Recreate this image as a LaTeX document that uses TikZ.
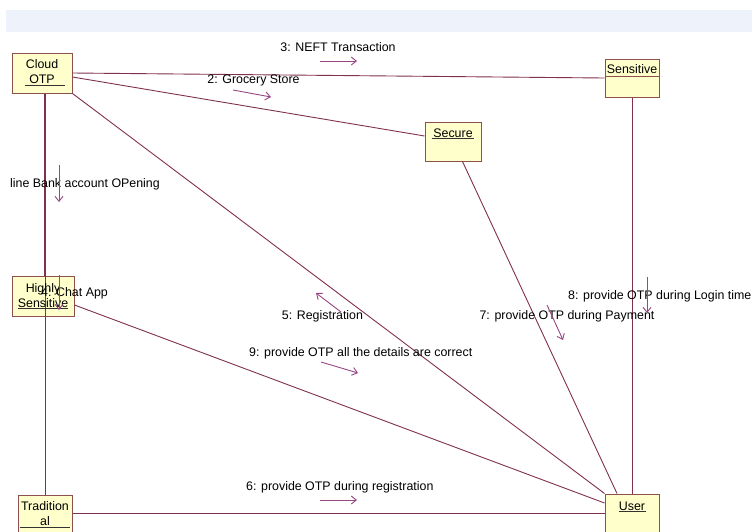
\documentclass[tikz,border=0pt]{standalone}
\usepackage{fontspec}
\setmainfont{Liberation Sans}
\usetikzlibrary{arrows.meta}
\definecolor{band}{RGB}{238,242,250}
\definecolor{boxfill}{RGB}{255,255,204}
\definecolor{boxline}{RGB}{140,80,80}
\definecolor{connc}{RGB}{128,48,80}
\definecolor{msgc}{RGB}{150,70,130}
\newcommand\lblfont{\fontsize{12.4}{15}\selectfont}
\begin{document}
\begin{tikzpicture}[x=1pt,y=-1pt,
  obj/.style={draw=boxline, fill=boxfill, line width=1pt, inner sep=0pt},
  otext/.style={inner sep=0pt, align=center, font=\lblfont, text=black},
  uline/.style={draw=black!80, line width=0.8pt},
  connector/.style={draw=connc, line width=0.9pt},
  msgarrow/.style={draw=msgc, line width=0.9pt, -{Straight Barb[length=5pt,width=8pt]}},
  lab/.style={inner sep=0pt, font=\lblfont, text=black}]
\useasboundingbox (0,0) rectangle (752,531);
\fill[band] (6,10) rectangle (752,32);

% boxes
\node[obj, minimum width=60pt, minimum height=40pt] (cloud) at (42,73) {};
\node[obj, minimum width=54pt, minimum height=38pt] (sens) at (632,78) {};
\node[obj, minimum width=56pt, minimum height=39pt] (secure) at (453,141.5) {};
\node[obj, minimum width=62pt, minimum height=40pt] (high) at (43,296) {};
\node[obj, minimum width=54pt, minimum height=44pt] (trad) at (45,517) {};
\node[obj, minimum width=54pt, minimum height=46pt] (user) at (632,517) {};

% connectors
\draw[connector] (cloud.east) -- (sens.west);
\draw[connector] ([yshift=-4pt]cloud.east) -- ([yshift=5.5pt]secure.west);
\draw[connector] (cloud.south east) -- (user.north west);
\draw[connector] ([xshift=2pt]cloud.south) -- ([xshift=1pt]high.north);
\draw[connector] (cloud.south -| trad.north) -- (trad.north);
\draw[connector] ([yshift=-9pt]high.east) -- ([yshift=14pt]user.west);
\draw[connector] ([xshift=9.5pt]secure.south) -- ([xshift=-15pt]user.north);
\draw[connector] (sens.south) -- (user.north);
\draw[connector] ([yshift=4pt]trad.east) -- ([yshift=4pt]user.west);

% box texts
\node[otext] (cloudtxt) at (42,71.5) {Cloud\\OTP};
\draw[uline] ([shift={(13,33)}]cloud.north west) -- ([shift={(53,33)}]cloud.north west);
\node[otext] (senstxt) at (632,69) {Sensitive};
\draw[draw=boxline, line width=1pt] ([shift={(0,18)}]sens.north west) -- ([shift={(0,18)}]sens.north east);
\node[otext] (securetxt) at (453,133) {Secure};
\draw[uline] ([shift={(7,17)}]secure.north west) -- ([shift={(49,17)}]secure.north west);
\node[otext] (hightxt) at (43,296) {Highly\\Sensitive};
\draw[uline] ([shift={(6,33)}]high.north west) -- ([shift={(56,33)}]high.north west);
\node[otext] (tradtxt) at (45,513.5) {Tradition\\al};
\draw[uline] ([shift={(2,33)}]trad.north west) -- ([shift={(52,33)}]trad.north west);
\node[otext] (usertxt) at (632,506) {User};
\draw[uline] ([shift={(14,18)}]user.north west) -- ([shift={(41,18)}]user.north west);

% message labels
\node[lab] (l3) at (338,47) {3: NEFT Transaction};
\node[lab] (l2) at (253.5,80) {2: Grocery Store};
\node[lab, anchor=west] (l1) at (10,184) {line Bank account OPening};
\node[lab, anchor=west] (l4) at (41,293) {4: Chat App};
\node[lab] (l5) at (322.5,316) {5: Registration};
\node[lab] (l7) at (567,316) {7: provide OTP during Payment};
\node[lab, anchor=west] (l8) at (568,296) {8: provide OTP during Login time};
\node[lab, anchor=west] (l9) at (249,353) {9: provide OTP all the details are correct};
\node[lab, anchor=west] (l6) at (246,487) {6: provide OTP during registration};

% message arrows
\coordinate (m3a) at (320,61); \coordinate (m3b) at (357,61);
\coordinate (m2a) at (233,90); \coordinate (m2b) at (271,97);
\coordinate (m1a) at (59,165); \coordinate (m1b) at (59,202);
\coordinate (m4a) at (59,275); \coordinate (m4b) at (59,310);
\coordinate (m5a) at (341,312); \coordinate (m5b) at (316,293);
\coordinate (m7a) at (547,305); \coordinate (m7b) at (563,340);
\coordinate (m8a) at (647,277); \coordinate (m8b) at (647,313);
\coordinate (m9a) at (321,362); \coordinate (m9b) at (358,373);
\coordinate (m6a) at (320,500); \coordinate (m6b) at (357,500);
\foreach \m in {3,2,1,4,5,7,8,9,6}{
  \draw[msgarrow] (m\m a) -- (m\m b);
}
\end{tikzpicture}
\end{document}
